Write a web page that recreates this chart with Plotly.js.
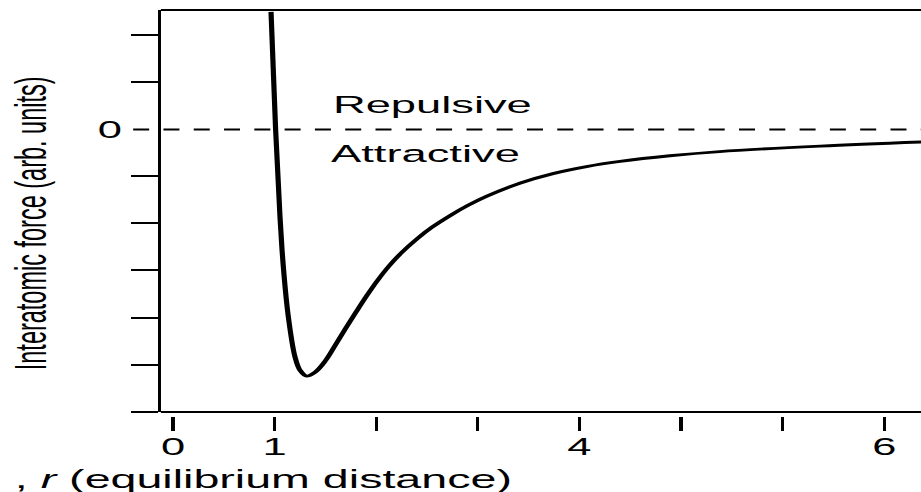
<!DOCTYPE html>
<html>
<head>
<meta charset="utf-8">
<script src="https://cdn.plot.ly/plotly-3.0.1.min.js"></script>
<style>
  html, body { margin: 0; padding: 0; background: #fff; overflow: hidden; width: 921px; height: 492px; }
  #chart { width: 498px; height: 492px; transform: scaleX(1.8494); transform-origin: 0 0; }
</style>
</head>
<body>
<div id="chart"></div>
<script>
// Data
const separation = [0.965, 1.010, 1.053, 1.086, 1.135, 1.20, 1.25, 1.316, 1.40, 1.50, 1.60, 1.70, 1.80, 1.90, 2.00, 2.12, 2.25, 2.40, 2.55, 2.73, 2.90, 3.09, 3.42, 3.74, 4.07, 4.40, 4.89, 5.38, 6.37, 7.40];
const force      = [2.50, 0.0, -1.855, -2.92, -3.98, -4.83, -5.12, -5.245, -5.16, -4.92, -4.58, -4.23, -3.89, -3.56, -3.25, -2.92, -2.62, -2.33, -2.08, -1.83, -1.62, -1.42, -1.14, -0.94, -0.79, -0.68, -0.56, -0.47, -0.355, -0.265];

const xTickVals = [0, 1, 2, 3, 4, 5, 6, 7];
const xTickText = ['0', '1', '', '', '4', '', '', '6'];
const yTickVals = [-6, -5, -4, -3, -2, -1, 0, 1, 2];
const yLabelVals = [0];
const yLabelText = ['0'];
const regionLabels = ['Repulsive', 'Attractive'];
const yTitle = 'Interatomic force (arb. units)';
const xTitle = ', <i>r</i> (equilibrium distance)';

const FONT = 'Liberation Sans, Arial, Helvetica, sans-serif';
const FS = 23.5;

const trace = {
  x: separation, y: force, type: 'scatter', mode: 'lines',
  line: { color: '#000', width: 2.8, shape: 'spline', smoothing: 1 },
  hoverinfo: 'skip', showlegend: false
};

const layout = {
  width: 498, height: 492, autosize: false,
  margin: { l: 87, r: 0, t: 10, b: 76, pad: 0 },
  paper_bgcolor: '#fff', plot_bgcolor: '#fff',
  font: { family: FONT, size: FS, color: '#000' },
  showlegend: false,
  xaxis: {
    range: [-0.119, 7.362], anchor: 'free', position: 0,
    tickmode: 'array', tickvals: xTickVals, ticktext: xTickText,
    ticks: 'outside', ticklen: 14, tickwidth: 1.7, tickcolor: '#000',
    ticklabelstandoff: -4,
    showline: false, showgrid: false, zeroline: false,
    tickfont: { family: FONT, size: FS, color: '#000' }
  },
  yaxis: {
    domain: [0.00985, 1],
    range: [-6.01, 2.54],
    tickmode: 'array', tickvals: yLabelVals, ticktext: yLabelText,
    ticks: 'outside', ticklen: 14.6, tickwidth: 2, tickcolor: 'rgba(0,0,0,0)',
    minor: { tickmode: 'array', tickvals: yTickVals.filter(v => v !== 0), ticks: 'outside', ticklen: 14.6, tickwidth: 2, tickcolor: '#000', showgrid: false },
    showline: true, linewidth: 1.7, linecolor: '#000',
    showgrid: false, zeroline: false,
    tickfont: { family: FONT, size: FS, color: '#000' }
  },
  shapes: [
    { type: 'line', xref: 'x domain', yref: 'y domain', x0: 0, x1: 1, y0: 0, y1: 0, line: { color: '#000', width: 2 } },
    { type: 'line', xref: 'x domain', yref: 'y domain', x0: 0, x1: 1, y0: 1, y1: 1, line: { color: '#000', width: 2 } },
    { type: 'line', xref: 'paper', yref: 'y', x0: -0.0365, x1: 1, y0: 0, y1: 0, line: { color: '#000', width: 2, dash: '8.65px,7.73px' } }
  ],
  annotations: [
    { text: regionLabels[0], xref: 'x', yref: 'y', x: 1.54, y: 0.54, xanchor: 'left', yanchor: 'middle', showarrow: false, font: { family: FONT, size: 24.5, color: '#000' } },
    { text: regionLabels[1], xref: 'x', yref: 'y', x: 1.52, y: -0.52, xanchor: 'left', yanchor: 'middle', showarrow: false, font: { family: FONT, size: 24.5, color: '#000' } },
    { text: yTitle, xref: 'paper', yref: 'paper', x: -0.17, y: 0.475, xanchor: 'center', yanchor: 'middle', textangle: -90, showarrow: false, font: { family: FONT, size: FS, color: '#000' } },
    { text: xTitle, xref: 'paper', yref: 'paper', x: -0.196, y: -0.155, xanchor: 'left', yanchor: 'middle', showarrow: false, font: { family: FONT, size: 25.2, color: '#000' } }
  ]
};

Plotly.newPlot('chart', [trace], layout, { displayModeBar: false, staticPlot: true });
</script>
</body>
</html>
